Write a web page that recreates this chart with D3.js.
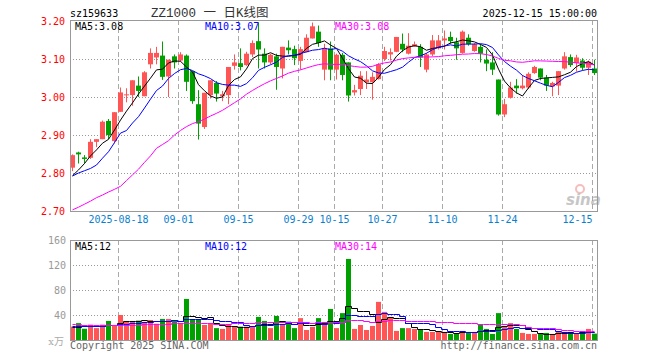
<!DOCTYPE html>
<html>
<head>
<meta charset="utf-8">
<script src="https://d3js.org/d3.v7.min.js"></script>
<style>
  body{ margin:0; background:#fff; }
  text{ font-family:"DejaVu Sans Mono",monospace; font-size:10px; }
</style>
</head>
<body>
<svg id="chart" width="660" height="360"></svg>
<script>
// trading days shown (08-06 .. 12-15)
const dates = [
  "2025-08-06","2025-08-07","2025-08-08","2025-08-11","2025-08-12","2025-08-13","2025-08-14","2025-08-15",
  "2025-08-18","2025-08-19","2025-08-20","2025-08-21","2025-08-22","2025-08-25","2025-08-26","2025-08-27",
  "2025-08-28","2025-08-29","2025-09-01","2025-09-02","2025-09-03","2025-09-04","2025-09-05","2025-09-08",
  "2025-09-09","2025-09-10","2025-09-11","2025-09-12","2025-09-15","2025-09-16","2025-09-17","2025-09-18",
  "2025-09-19","2025-09-22","2025-09-23","2025-09-24","2025-09-25","2025-09-26","2025-09-29","2025-09-30",
  "2025-10-09","2025-10-10","2025-10-13","2025-10-14","2025-10-15","2025-10-16","2025-10-17","2025-10-20",
  "2025-10-21","2025-10-22","2025-10-23","2025-10-24","2025-10-27","2025-10-28","2025-10-29","2025-10-30",
  "2025-10-31","2025-11-03","2025-11-04","2025-11-05","2025-11-06","2025-11-07","2025-11-10","2025-11-11",
  "2025-11-12","2025-11-13","2025-11-14","2025-11-17","2025-11-18","2025-11-19","2025-11-20","2025-11-21",
  "2025-11-24","2025-11-25","2025-11-26","2025-11-27","2025-11-28","2025-12-01","2025-12-02","2025-12-03",
  "2025-12-04","2025-12-05","2025-12-08","2025-12-09","2025-12-10","2025-12-11","2025-12-12","2025-12-15"
];

const open = [
  2.814,2.854,2.841,2.840,2.882,2.889,2.937,2.884,2.961,3.005,3.005,3.030,3.002,3.086,3.104,3.109,
  3.054,3.107,3.096,3.109,3.068,2.981,2.921,3.005,3.037,3.002,3.005,3.082,3.089,3.084,3.112,3.147,
  3.114,3.091,3.107,3.075,3.130,3.126,3.095,3.118,3.154,3.172,3.072,3.128,3.072,3.111,3.091,3.012,
  3.021,3.039,3.039,3.047,3.100,3.112,3.119,3.140,3.114,3.133,3.132,3.072,3.112,3.128,3.149,3.158,
  3.144,3.116,3.156,3.121,3.132,3.098,3.091,3.046,2.954,2.998,3.030,3.023,3.025,3.063,3.075,3.051,
  3.028,3.030,3.075,3.105,3.089,3.096,3.077,3.075
];
const high = [
  2.849,2.856,2.847,2.889,2.889,2.938,2.942,2.960,3.025,3.023,3.044,3.054,3.068,3.128,3.132,3.146,
  3.098,3.112,3.118,3.112,3.068,3.018,3.011,3.044,3.042,3.016,3.079,3.112,3.128,3.119,3.149,3.195,
  3.128,3.114,3.114,3.132,3.149,3.135,3.132,3.165,3.196,3.188,3.140,3.146,3.114,3.116,3.091,3.032,
  3.068,3.068,3.065,3.089,3.132,3.128,3.158,3.167,3.168,3.146,3.139,3.116,3.163,3.163,3.175,3.172,
  3.156,3.175,3.165,3.142,3.139,3.125,3.118,3.046,2.995,3.040,3.047,3.058,3.065,3.082,3.075,3.058,
  3.040,3.068,3.118,3.112,3.111,3.102,3.096,3.098
];
const low = [
  2.805,2.825,2.825,2.837,2.868,2.889,2.889,2.878,2.961,2.986,2.977,3.000,3.002,3.075,3.086,3.045,
  3.000,3.075,3.093,3.016,2.982,2.888,2.916,2.996,2.988,2.989,2.981,3.072,3.070,3.082,3.105,3.075,
  3.075,3.086,3.019,3.049,3.112,3.084,3.072,3.118,3.154,3.132,3.044,3.044,3.046,3.044,2.988,3.004,
  3.005,3.021,2.993,3.046,3.095,3.096,3.118,3.118,3.112,3.132,3.079,3.065,3.107,3.125,3.125,3.140,
  3.098,3.114,3.135,3.119,3.091,3.068,3.058,2.951,2.947,2.996,3.009,3.020,3.021,3.061,3.044,3.016,
  3.002,3.005,3.072,3.079,3.067,3.070,3.058,3.058
];
const close = [
  2.847,2.849,2.837,2.882,2.889,2.935,2.900,2.960,3.012,3.007,3.044,3.016,3.065,3.116,3.116,3.053,
  3.098,3.091,3.112,3.040,2.989,2.930,3.011,3.044,3.009,3.007,3.079,3.091,3.079,3.114,3.142,3.125,
  3.091,3.111,3.079,3.132,3.123,3.102,3.126,3.156,3.186,3.142,3.128,3.072,3.111,3.058,3.004,3.018,
  3.056,3.046,3.053,3.086,3.121,3.118,3.158,3.125,3.135,3.139,3.104,3.112,3.149,3.149,3.154,3.147,
  3.128,3.172,3.139,3.139,3.114,3.088,3.072,2.954,2.981,3.025,3.023,3.030,3.061,3.079,3.051,3.030,
  3.037,3.068,3.107,3.084,3.104,3.077,3.093,3.063
];
// volume, 万
const volume = [
  21.4,27,18,24.6,19,24.6,30.5,24,40,30.5,30.5,31,29,32,26,33.7,
  33.7,32,26,65.7,32,32,24,27,19,17.7,24,22,21.4,21.4,21,37,
  30.5,19,38.5,24,29.4,19,35,16,21,35,27,49.7,19,43,129.7,17.7,
  24,16,22.5,61,45,37,14.5,19,19,17.7,16,12.9,12.9,12.9,12.9,9.7,
  10.7,14.5,12.9,12.9,24,17.7,9.7,43,21,27,17.7,11.3,9.7,9.7,9.7,11.3,
  9.7,14.5,12.9,12.9,9.7,12.9,17.7,10.2
];

// moving averages at the left edge (earlier days are off the chart)
const ma5Lead = [2.793,2.808,2.825,2.845];
const ma10Lead = [2.792,2.800,2.806,2.812,2.821,2.839,2.856,2.880,2.905];
const ma30Lead = [2.703,2.710,2.718,2.726,2.735,2.742,2.750,2.757,2.765,2.780,2.795,2.810,2.828,2.845,2.865,
  2.875,2.885,2.900,2.912,2.922,2.930,2.935,2.942,2.950,2.957,2.965,2.975,2.985,2.995];
const vma5Lead = [21,21.5,22,23];
const vma10Lead = [22.4,22.4,22.5,22.6,22.8,23,23.5,24,25];
const vma30Lead = [25.6,25.2,24.8,24.4,24,23.6,23.5,23.6,24,24.2,24.5,24.8,25.2,25.6,25.8,26,26.2,26.5,
  26.7,26.8,26.8,26.7,26.6,26.5,26.3,26.2,26.2,26.5,27];

const tickDates = ["2025-08-18","2025-09-01","2025-09-15","2025-09-29","2025-10-15","2025-10-27","2025-11-10","2025-11-24","2025-12-15"];
const priceTicks = [2.70,2.80,2.90,3.00,3.10,3.20];
const volTicks = [40,80,120,160];
const priceLegend = ["MA5:3.08","MA10:3.07","MA30:3.08"];
const volLegend = ["MA5:12","MA10:12","MA30:14"];

const RED = "#ff5555", GREEN = "#00a000";
const maColors = ["#000","#0000ff","#ff00ff"];

function movingAvg(vals, n, lead){
  return vals.map(function(v, i){
    if (i < n - 1) return lead[i];
    return d3.mean(vals.slice(i - n + 1, i + 1));
  });
}

const svg = d3.select("#chart");
const left = 70, right = 597;

const x = d3.scaleBand().domain(dates).range([69.5, 597.5]).paddingInner(1/6).paddingOuter(1/12);
const cx = function(d){ return x(d) + 2.5; };

const yP = d3.scaleLinear().domain([2.70, 3.20]).range([211, 21]);
const yV = d3.scaleLinear().domain([0, 160]).range([340, 240]);

// header
svg.append("text").attr("x", 70).attr("y", 17).text("sz159633");
svg.append("text").attr("x", 151).attr("y", 17)
  .style("font-family", "'Liberation Mono','Noto Sans CJK SC',monospace")
  .style("font-size", "12.5px").attr("fill", "#333")
  .text("ZZ1000 一 日K线图");
svg.append("text").attr("x", 597).attr("y", 17).attr("text-anchor", "end").text("2025-12-15 15:00:00");

// grid
function hGrid(scale, ticks){
  svg.append("g").selectAll("line").data(ticks).enter().append("line")
    .attr("x1", left).attr("x2", right + 1)
    .attr("y1", function(d){ return Math.round(scale(d)) + 0.5; })
    .attr("y2", function(d){ return Math.round(scale(d)) + 0.5; })
    .attr("stroke", "#999").attr("stroke-dasharray", "1,2");
}
hGrid(yP, [2.80, 2.90, 3.00, 3.10]);
hGrid(yV, [40, 80, 120]);

[[20, 211], [240, 340]].forEach(function(r){
  svg.append("g").selectAll("line").data(tickDates).enter().append("line")
    .attr("x1", function(d){ return x(d) + 0.5; })
    .attr("x2", function(d){ return x(d) + 0.5; })
    .attr("y1", r[0]).attr("y2", r[1])
    .attr("stroke", "#aaa").attr("stroke-dasharray", "5,3");
});

// sina logo
const logo = svg.append("g").attr("opacity", 0.55);
logo.append("circle").attr("cx", 580).attr("cy", 189).attr("r", 4)
  .attr("fill", "none").attr("stroke", "#e88").attr("stroke-width", 2);
logo.append("text").attr("x", 566).attr("y", 205)
  .style("font-family", "'DejaVu Sans',sans-serif").style("font-size", "15px")
  .style("font-style", "italic").style("font-weight", "bold")
  .attr("fill", "#999").text("sina");

// candles
const idx = d3.range(dates.length);
const candles = svg.append("g").selectAll("g").data(idx).enter().append("g");
candles.append("line")
  .attr("x1", function(i){ return cx(dates[i]); })
  .attr("x2", function(i){ return cx(dates[i]); })
  .attr("y1", function(i){ return yP(high[i]); })
  .attr("y2", function(i){ return yP(low[i]); })
  .attr("stroke", function(i){ return close[i] >= open[i] ? RED : GREEN; });
candles.append("rect")
  .attr("x", function(i){ return x(dates[i]); })
  .attr("width", x.bandwidth())
  .attr("y", function(i){ return yP(Math.max(open[i], close[i])); })
  .attr("height", function(i){ return Math.max(1, Math.abs(yP(open[i]) - yP(close[i]))); })
  .attr("fill", function(i){ return close[i] >= open[i] ? RED : GREEN; });

// volume bars
svg.append("g").selectAll("rect").data(idx).enter().append("rect")
  .attr("x", function(i){ return x(dates[i]); })
  .attr("width", x.bandwidth())
  .attr("y", function(i){ return yV(volume[i]); })
  .attr("height", function(i){ return yV(0) - yV(volume[i]) + 1; })
  .attr("fill", function(i){ return close[i] >= open[i] ? RED : GREEN; });

// MA lines
const priceMA = [movingAvg(close, 5, ma5Lead), movingAvg(close, 10, ma10Lead), movingAvg(close, 30, ma30Lead)];
const volMA = [movingAvg(volume, 5, vma5Lead), movingAvg(volume, 10, vma10Lead), movingAvg(volume, 30, vma30Lead)];

priceMA.forEach(function(m, k){
  const line = d3.line().x(function(v, i){ return cx(dates[i]); }).y(function(v){ return yP(v); });
  svg.append("path").attr("d", line(m)).attr("fill", "none").attr("stroke", maColors[k]).attr("stroke-width", 1);
});
volMA.forEach(function(m, k){
  const line = d3.line().curve(d3.curveStep)
    .x(function(v, i){ return cx(dates[i]); }).y(function(v){ return Math.round(yV(v)) + 0.5; });
  svg.append("path").attr("d", line(m)).attr("fill", "none").attr("stroke", maColors[k]).attr("stroke-width", 1);
});

// frames
svg.append("rect").attr("x", 70.5).attr("y", 20.5).attr("width", 527).attr("height", 191)
  .attr("fill", "none").attr("stroke", "#999");
svg.append("rect").attr("x", 70.5).attr("y", 240.5).attr("width", 527).attr("height", 100)
  .attr("fill", "none").attr("stroke", "#999");

// axes
const yAxisP = svg.append("g").attr("transform", "translate(70,0)")
  .call(d3.axisLeft(yP).tickValues(priceTicks).tickSize(0).tickPadding(5).tickFormat(d3.format(".2f")));
yAxisP.select(".domain").remove();
yAxisP.selectAll("text").attr("fill", "#f00").style("font-family", "'DejaVu Sans Mono',monospace").style("font-size", "10px");

const yAxisV = svg.append("g").attr("transform", "translate(70,0)")
  .call(d3.axisLeft(yV).tickValues(volTicks).tickSize(0).tickPadding(4));
yAxisV.select(".domain").remove();
yAxisV.selectAll("text").attr("fill", "#999").style("font-family", "'DejaVu Sans Mono',monospace").style("font-size", "10px");
svg.append("text").attr("x", 64).attr("y", 345).attr("text-anchor", "end")
  .attr("fill", "#aaa").style("font-family", "'DejaVu Serif','Noto Sans CJK SC',serif").text("x万");

const xAxis = svg.append("g").attr("transform", "translate(0.5,212)")
  .call(d3.axisBottom(x).tickValues(tickDates).tickSize(0).tickPadding(4)
    .tickFormat(function(d, i){ return i === 0 ? d : d.slice(5); }));
xAxis.select(".domain").remove();
xAxis.selectAll(".tick").attr("transform", function(d){ return "translate(" + x(d) + ",0)"; });
xAxis.selectAll("text").attr("fill", "#0a7fd0").style("font-family", "'DejaVu Sans Mono',monospace").style("font-size", "10px")
  .attr("text-anchor", function(d){ return x(d) + 16 > right ? "end" : "middle"; });

// legends
[75, 205, 335].forEach(function(px, k){
  svg.append("text").attr("x", px).attr("y", 30).attr("fill", maColors[k]).text(priceLegend[k]);
  svg.append("text").attr("x", px).attr("y", 250).attr("fill", maColors[k]).text(volLegend[k]);
});

// footer
svg.append("text").attr("x", 70).attr("y", 349).attr("fill", "#666").text("Copyright 2025 SINA.COM");
svg.append("text").attr("x", 597).attr("y", 349).attr("text-anchor", "end").attr("fill", "#666").text("http://finance.sina.com.cn");
</script>
</body>
</html>
